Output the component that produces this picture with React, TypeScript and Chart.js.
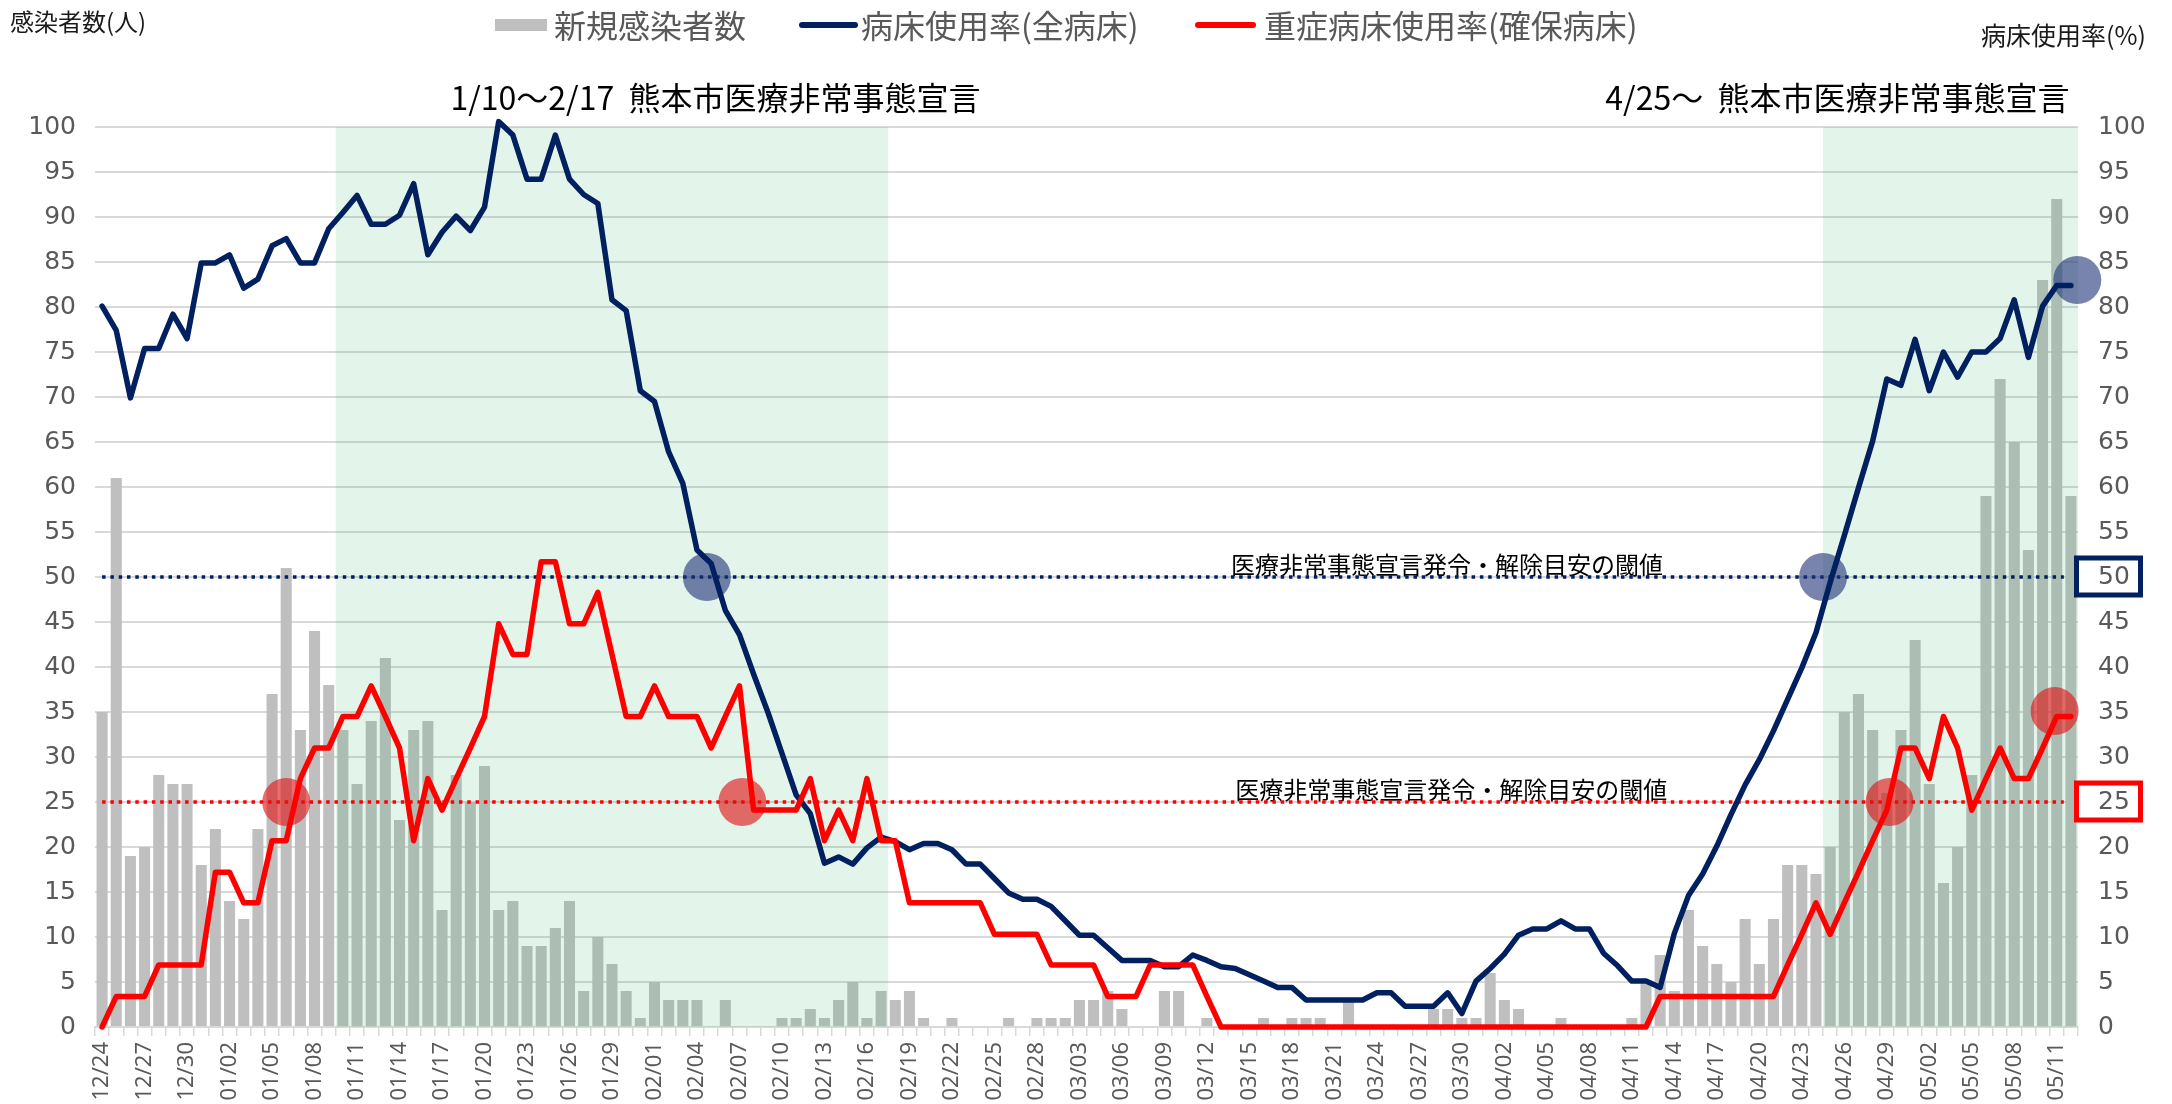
import React, { useEffect, useRef } from 'react';
import { Chart, registerables } from 'chart.js';

Chart.register(...registerables);

const W = 2172;
const H = 1104;

// ---- categories (day labels) ----
const DATES = [
  '12/24','12/25','12/26','12/27','12/28','12/29','12/30','12/31',
  '01/01','01/02','01/03','01/04','01/05','01/06','01/07','01/08','01/09','01/10',
  '01/11','01/12','01/13','01/14','01/15','01/16','01/17','01/18','01/19','01/20',
  '01/21','01/22','01/23','01/24','01/25','01/26','01/27','01/28','01/29','01/30','01/31',
  '02/01','02/02','02/03','02/04','02/05','02/06','02/07','02/08','02/09','02/10',
  '02/11','02/12','02/13','02/14','02/15','02/16','02/17','02/18','02/19','02/20',
  '02/21','02/22','02/23','02/24','02/25','02/26','02/27','02/28',
  '03/01','03/02','03/03','03/04','03/05','03/06','03/07','03/08','03/09','03/10',
  '03/11','03/12','03/13','03/14','03/15','03/16','03/17','03/18','03/19','03/20',
  '03/21','03/22','03/23','03/24','03/25','03/26','03/27','03/28','03/29','03/30','03/31',
  '04/01','04/02','04/03','04/04','04/05','04/06','04/07','04/08','04/09','04/10',
  '04/11','04/12','04/13','04/14','04/15','04/16','04/17','04/18','04/19','04/20',
  '04/21','04/22','04/23','04/24','04/25','04/26','04/27','04/28','04/29','04/30',
  '05/01','05/02','05/03','05/04','05/05','05/06','05/07','05/08','05/09','05/10','05/11','05/12',
];

// ---- series ----
const NEW_CASES = [
  35, 61, 19, 20, 28, 27, 27, 18, 22, 14,
  12, 22, 37, 51, 33, 44, 38, 33, 27, 34,
  41, 23, 33, 34, 13, 28, 25, 29, 13, 14,
  9, 9, 11, 14, 4, 10, 7, 4, 1, 5,
  3, 3, 3, 0, 3, 0, 0, 0, 1, 1,
  2, 1, 3, 5, 1, 4, 3, 4, 1, 0,
  1, 0, 0, 0, 1, 0, 1, 1, 1, 3,
  3, 4, 2, 0, 0, 4, 4, 0, 1, 0,
  0, 0, 1, 0, 1, 1, 1, 0, 3, 0,
  0, 0, 0, 0, 2, 2, 1, 1, 6, 3,
  2, 0, 0, 1, 0, 0, 0, 0, 1, 5,
  8, 4, 13, 9, 7, 5, 12, 7, 12, 18,
  18, 17, 20, 35, 37, 33, 26, 33, 43, 27,
  16, 20, 28, 59, 72, 65, 53, 83, 92, 59,
];

const BED_ALL = [
  80.1, 77.4, 69.9, 75.4, 75.4, 79.2, 76.5, 84.9, 84.9, 85.8,
  82.1, 83.1, 86.8, 87.6, 84.9, 84.9, 88.7, 90.5, 92.4, 89.2,
  89.2, 90.2, 93.7, 85.8, 88.3, 90.1, 88.5, 91.1, 100.6, 99.1,
  94.2, 94.2, 99.1, 94.2, 92.5, 91.5, 80.8, 79.6, 70.7, 69.5,
  63.9, 60.4, 53.0, 51.5, 46.3, 43.6, 39.2, 35.0, 30.4, 25.8,
  23.7, 18.2, 18.9, 18.1, 19.9, 21.1, 20.6, 19.7, 20.4, 20.4,
  19.7, 18.1, 18.1, 16.5, 14.9, 14.2, 14.2, 13.4, 11.8, 10.2,
  10.2, 8.8, 7.4, 7.4, 7.4, 6.7, 6.7, 8.0, 7.4, 6.7,
  6.5, 5.8, 5.1, 4.4, 4.4, 3.0, 3.0, 3.0, 3.0, 3.0,
  3.8, 3.8, 2.3, 2.3, 2.3, 3.8, 1.5, 5.1, 6.5, 8.1,
  10.2, 10.9, 10.9, 11.8, 10.9, 10.9, 8.2, 6.8, 5.1, 5.1,
  4.4, 10.4, 14.6, 17.0, 20.1, 23.6, 26.9, 29.7, 32.9, 36.4,
  39.9, 43.8, 49.4, 54.6, 59.9, 65.1, 72.0, 71.3, 76.4, 70.7,
  75.0, 72.2, 75.0, 75.0, 76.5, 80.8, 74.4, 80.1, 82.4, 82.4,
];

const BED_SEVERE = [
  0, 3.4, 3.4, 3.4, 6.9, 6.9, 6.9, 6.9, 17.2, 17.2,
  13.8, 13.8, 20.7, 20.7, 27.6, 31.0, 31.0, 34.5, 34.5, 37.9,
  34.5, 31.0, 20.7, 27.6, 24.1, 27.6, 31.0, 34.5, 44.8, 41.4,
  41.4, 51.7, 51.7, 44.8, 44.8, 48.3, 41.4, 34.5, 34.5, 37.9,
  34.5, 34.5, 34.5, 31.0, 34.5, 37.9, 24.1, 24.1, 24.1, 24.1,
  27.6, 20.7, 24.1, 20.7, 27.6, 20.7, 20.7, 13.8, 13.8, 13.8,
  13.8, 13.8, 13.8, 10.3, 10.3, 10.3, 10.3, 6.9, 6.9, 6.9,
  6.9, 3.4, 3.4, 3.4, 6.9, 6.9, 6.9, 6.9, 3.4, 0,
  0, 0, 0, 0, 0, 0, 0, 0, 0, 0,
  0, 0, 0, 0, 0, 0, 0, 0, 0, 0,
  0, 0, 0, 0, 0, 0, 0, 0, 0, 0,
  3.4, 3.4, 3.4, 3.4, 3.4, 3.4, 3.4, 3.4, 3.4, 6.9,
  10.3, 13.8, 10.3, 13.8, 17.2, 20.7, 24.1, 31.0, 31.0, 27.6,
  34.5, 31.0, 24.1, 27.6, 31.0, 27.6, 27.6, 31.0, 34.5, 34.5,
];

// ---- axis / reference values ----
const Y_MIN = 0;
const Y_MAX = 100;
const Y_STEP = 5;
const THRESHOLD_ALL = 50;
const THRESHOLD_SEVERE = 25;
const THRESHOLD_TEXT = '医療非常事態宣言発令・解除目安の閾値';

// emergency periods (start / end category)
const PERIOD_START = ['01/10', '04/25'];
const PERIOD_END = ['02/17', '05/12'];
const PERIOD_TITLE = ['1/10～2/17  熊本市医療非常事態宣言', '4/25～  熊本市医療非常事態宣言'];

// highlight circles (x in category index units, y in %)
const MARK_X = [13.0, 42.7, 45.2, 121.5, 126.2, 137.85, 139.45];
const MARK_Y = [25, 50, 25, 50, 25, 35.1, 83];
const MARK_KIND = ['severe', 'all', 'severe', 'all', 'severe', 'severe', 'all'];

const LEGEND_LABELS = ['新規感染者数', '病床使用率(全病床)', '重症病床使用率(確保病床)'];
const LEFT_AXIS_TITLE = '感染者数(人)';
const RIGHT_AXIS_TITLE = '病床使用率(%)';

// ---- styles ----
const NAVY = '#002060';
const RED = '#ff0000';
const BAR_GRAY = '#bfbfbf';
const GRID = '#d9d9d9';
const TEXT_GRAY = '#595959';
const SHADE = 'rgba(68,182,115,0.15)';
const MARK_ALL = 'rgba(30,50,120,0.6)';
const MARK_SEVERE = 'rgba(225,20,20,0.62)';
const CJK = '"Noto Sans CJK JP", "Noto Sans", sans-serif';
const NUM = '"DejaVu Sans", sans-serif';

const annotPlugin = {
  id: 'annot',
  afterDatasetDraw(chart: any, args: any) {
    if (args.index !== 0) return;
    const { ctx, chartArea: ca } = chart;
    const x = chart.scales.x;
    const y = chart.scales.y2;
    ctx.save();
    // shaded periods
    ctx.fillStyle = SHADE;
    for (let i = 0; i < PERIOD_START.length; i++) {
      const x0 = x.getPixelForValue(DATES.indexOf(PERIOD_START[i]) - 0.5);
      const x1 = x.getPixelForValue(DATES.indexOf(PERIOD_END[i]) + 0.5);
      ctx.fillRect(x0, ca.top, x1 - x0, ca.bottom - ca.top);
    }
    // threshold labels
    ctx.font = `24px ${CJK}`;
    ctx.fillStyle = '#000';
    ctx.textAlign = 'left';
    ctx.textBaseline = 'alphabetic';
    ctx.fillText(THRESHOLD_TEXT, x.getPixelForValue(79.7), y.getPixelForValue(THRESHOLD_ALL) - 3);
    ctx.fillText(THRESHOLD_TEXT, x.getPixelForValue(80.0), y.getPixelForValue(THRESHOLD_SEVERE) - 3);
    // dotted threshold lines
    ctx.setLineDash([3.5, 4.8]);
    ctx.lineWidth = 3.5;
    const xa = x.getPixelForValue(0);
    const xb = x.getPixelForValue(138.5);
    const lines: [number, string][] = [[THRESHOLD_ALL, NAVY], [THRESHOLD_SEVERE, RED]];
    for (const [v, c] of lines) {
      const py = Math.round(y.getPixelForValue(v));
      ctx.strokeStyle = c;
      ctx.beginPath();
      ctx.moveTo(xa, py);
      ctx.lineTo(xb, py);
      ctx.stroke();
    }
    ctx.setLineDash([]);
    // highlight circles
    for (let i = 0; i < MARK_X.length; i++) {
      ctx.fillStyle = MARK_KIND[i] === 'all' ? MARK_ALL : MARK_SEVERE;
      ctx.beginPath();
      ctx.arc(x.getPixelForValue(MARK_X[i]), y.getPixelForValue(MARK_Y[i]), 24, 0, Math.PI * 2);
      ctx.fill();
    }
    ctx.restore();
  },
  afterDraw(chart: any) {
    const { ctx, chartArea: ca } = chart;
    const x = chart.scales.x;
    const y = chart.scales.y2;
    ctx.save();
    // period titles
    ctx.fillStyle = '#000';
    ctx.font = `32px ${CJK}`;
    ctx.textBaseline = 'alphabetic';
    ctx.textAlign = 'left';
    ctx.fillText(PERIOD_TITLE[0], x.getPixelForValue(24.6), ca.top - 17);
    ctx.textAlign = 'right';
    ctx.fillText(PERIOD_TITLE[1], x.getPixelForValue(138.9), ca.top - 17);

    // axis titles
    ctx.font = `24px ${CJK}`;
    ctx.fillStyle = '#1a1a1a';
    ctx.textBaseline = 'middle';
    ctx.textAlign = 'left';
    ctx.fillText(LEFT_AXIS_TITLE, 10, 22);
    ctx.font = `25px ${CJK}`;
    ctx.textAlign = 'right';
    ctx.fillText(RIGHT_AXIS_TITLE, 2146, 35);

    // legend
    const ly = 25;
    ctx.fillStyle = BAR_GRAY;
    ctx.fillRect(495, ly - 6, 52, 12);
    ctx.lineCap = 'round';
    ctx.lineWidth = 6;
    ctx.strokeStyle = NAVY;
    ctx.beginPath(); ctx.moveTo(802, ly); ctx.lineTo(855, ly); ctx.stroke();
    ctx.strokeStyle = RED;
    ctx.beginPath(); ctx.moveTo(1198, ly); ctx.lineTo(1253, ly); ctx.stroke();
    ctx.font = `32px ${CJK}`;
    ctx.fillStyle = TEXT_GRAY;
    ctx.textAlign = 'left';
    ctx.fillText(LEGEND_LABELS[0], 554, ly + 1);
    ctx.fillText(LEGEND_LABELS[1], 861, ly + 1);
    ctx.fillText(LEGEND_LABELS[2], 1264, ly + 1);

    // boxes around threshold tick labels
    ctx.lineWidth = 5;
    const boxes: [number, string][] = [[THRESHOLD_ALL, NAVY], [THRESHOLD_SEVERE, RED]];
    for (const [v, c] of boxes) {
      const py = y.getPixelForValue(v);
      ctx.strokeStyle = c;
      ctx.strokeRect(2076.5, py - 19, 64, 37);
    }
    ctx.restore();
  },
};

export default function App() {
  const ref = useRef<HTMLCanvasElement>(null);
  useEffect(() => {
    document.body.style.margin = '0';
    const canvas = ref.current;
    if (!canvas) return;
    const chart = new Chart(canvas, {
      type: 'bar',
      data: {
        labels: DATES,
        datasets: [
          {
            type: 'bar',
            label: LEGEND_LABELS[0],
            data: NEW_CASES,
            backgroundColor: BAR_GRAY,
            borderWidth: 0,
            barPercentage: 0.78,
            categoryPercentage: 1,
            yAxisID: 'y',
            order: 4,
          },
          {
            type: 'line',
            label: LEGEND_LABELS[1],
            data: BED_ALL,
            borderColor: NAVY,
            borderWidth: 5.5,
            pointRadius: 0,
            tension: 0,
            borderJoinStyle: 'round',
            borderCapStyle: 'round',
            yAxisID: 'y2',
            clip: false,
            order: 2,
          } as any,
          {
            type: 'line',
            label: LEGEND_LABELS[2],
            data: BED_SEVERE,
            borderColor: RED,
            borderWidth: 5.5,
            pointRadius: 0,
            tension: 0,
            borderJoinStyle: 'round',
            borderCapStyle: 'round',
            yAxisID: 'y2',
            clip: false,
            order: 1,
          } as any,
        ],
      },
      options: {
        responsive: false,
        animation: false,
        events: [],
        layout: { padding: { top: 127, left: 0, right: 0, bottom: 0 } },
        plugins: {
          legend: { display: false },
          tooltip: { enabled: false },
          title: { display: false },
        },
        scales: {
          x: {
            type: 'category',
            offset: true,
            grid: {
              display: true,
              drawOnChartArea: false,
              drawTicks: true,
              tickLength: 9,
              color: GRID,
              lineWidth: 1.5,
              offset: true,
            },
            border: { display: true, color: GRID, width: 2 },
            ticks: {
              autoSkip: false,
              minRotation: 90,
              maxRotation: 90,
              padding: 6,
              color: TEXT_GRAY,
              font: { family: '"Noto Sans", sans-serif', size: 22 },
              callback: (_v: any, i: number) => (i % 3 === 0 ? DATES[i] : ''),
            },
            afterFit: (s: any) => { s.height = 77; },
          },
          y: {
            position: 'left',
            min: Y_MIN,
            max: Y_MAX,
            ticks: {
              stepSize: Y_STEP,
              padding: 19,
              color: TEXT_GRAY,
              font: { family: NUM, size: 25 },
            },
            grid: { color: GRID, lineWidth: 2, drawTicks: false },
            border: { display: false },
            afterFit: (s: any) => { s.width = 95; },
          },
          y2: {
            position: 'right',
            min: Y_MIN,
            max: Y_MAX,
            ticks: {
              stepSize: Y_STEP,
              padding: 20,
              color: TEXT_GRAY,
              font: { family: NUM, size: 25 },
            },
            grid: { display: false, drawTicks: false },
            border: { display: false },
            afterFit: (s: any) => { s.width = 94; },
          },
        },
      } as any,
      plugins: [annotPlugin],
    });
    return () => chart.destroy();
  }, []);
  return (
    <div style={{ width: W, height: H }}>
      <canvas ref={ref} width={W} height={H} style={{ display: 'block', width: W, height: H }} />
    </div>
  );
}
